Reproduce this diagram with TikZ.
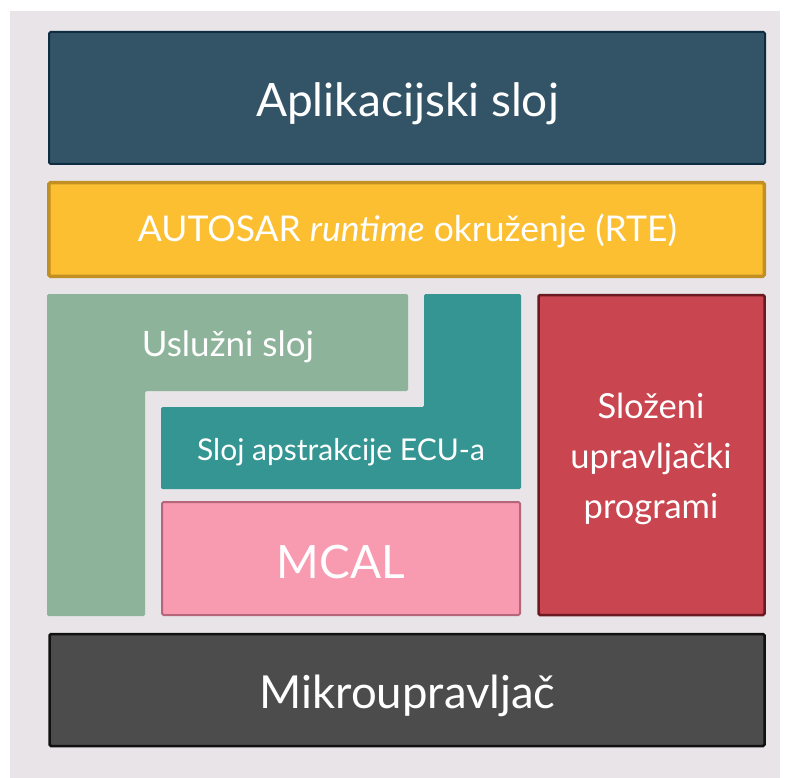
\documentclass[tikz,border=0pt]{standalone}
\usepackage{fontspec}
\setmainfont{Lato}
\definecolor{bgcol}{HTML}{E8E4E7}
\definecolor{appfill}{HTML}{325466}
\definecolor{appline}{HTML}{0E2D42}
\definecolor{rtefill}{HTML}{FCBF31}
\definecolor{rteline}{HTML}{C28F22}
\definecolor{svcfill}{HTML}{8DB39A}
\definecolor{ecufill}{HTML}{359592}
\definecolor{mcalfill}{HTML}{F89AB0}
\definecolor{mcalline}{HTML}{B5667A}
\definecolor{cddfill}{HTML}{C9454F}
\definecolor{cddline}{HTML}{6B1A22}
\definecolor{mcufill}{HTML}{4C4C4C}
\definecolor{mculine}{HTML}{111111}
\tikzset{layer/.style={draw, line width=2pt, rounded corners=1.5pt, inner sep=0pt}}
\tikzset{caption/.style={text=white, anchor=base, inner sep=0pt}}
\usetikzlibrary{positioning}

\begin{document}
\begin{tikzpicture}[x=1pt, y=-1pt]
      \useasboundingbox (0, 0) rectangle (790, 778);
      \fill[bgcol] (10, 11) rectangle (780, 778);

      \node[layer, fill=appfill, draw=appline, minimum width=716pt, minimum height=132pt] (appbox) at (407, 98) {};
      \node[caption, font=\fontsize{46}{50}\selectfont] (app) at (407.5, 116.7) {Aplikacijski sloj};
      \node[layer, fill=rtefill, draw=rteline, line width=3.5pt, minimum width=715.5pt, minimum height=93.5pt] (rtebox) at (406.5, 229.5) {};
      \node[caption, font=\fontsize{35.5}{40}\selectfont] (rte) at (407.5, 241.7) {AUTOSAR \textit{runtime} okruženje (RTE)};

      % L-shaped layers
      \fill[svcfill, rounded corners=1.5pt] (47, 294) -- (408, 294) -- (408, 391) -- (145, 391) -- (145, 616) -- (47, 616) -- cycle;
      \node[caption, font=\fontsize{35}{40}\selectfont] (svc) at (228, 356) {Uslužni sloj};
      \fill[ecufill, rounded corners=1.5pt] (424, 294) -- (521, 294) -- (521, 489) -- (161, 489) -- (161, 407) -- (424, 407) -- cycle;
      \node[caption, font=\fontsize{30}{36}\selectfont] (ecu) at (341, 460) {Sloj apstrakcije ECU-a};

      \node[layer, fill=mcalfill, draw=mcalline, minimum width=358pt, minimum height=113pt] (mcalbox) at (341, 558.5) {};
      \node[caption, font=\fontsize{46}{50}\selectfont] (mcal) at (341, 578) {MCAL};

      \node[layer, fill=cddfill, draw=cddline, line width=2.5pt, minimum width=226pt, minimum height=320pt] (cddbox) at (651.5, 455) {};
      \node[caption, font=\fontsize{34.5}{40}\selectfont] (cdd1) at (651, 418) {Složeni};
      \node[caption, font=\fontsize{34.5}{40}\selectfont] (cdd2) at (651, 468) {upravljački};
      \node[caption, font=\fontsize{34.5}{40}\selectfont] (cdd3) at (651, 518) {programi};

      \node[layer, fill=mcufill, draw=mculine, line width=2.5pt, minimum width=715pt, minimum height=112pt] (mcubox) at (407, 690) {};
      \node[caption, font=\fontsize{45.5}{50}\selectfont] (mcu) at (407.5, 708.3) {Mikroupravljač};
    \end{tikzpicture}
\end{document}
